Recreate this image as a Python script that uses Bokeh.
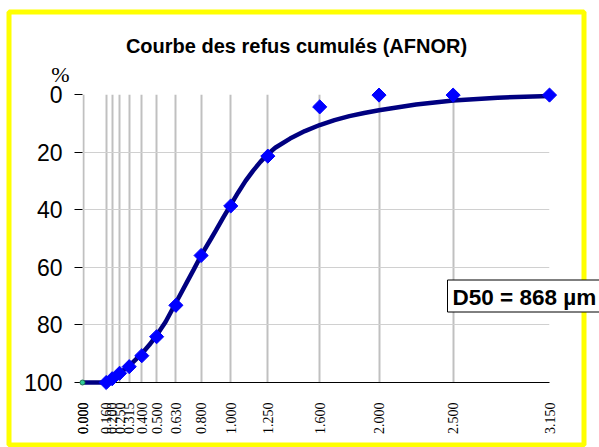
import math
from bokeh.plotting import figure
from bokeh.models import Range1d, FixedTicker
from bokeh.embed import file_html
from bokeh.resources import INLINE
from bokeh.core.properties import value

# ---- data (sieve opening in mm, cumulative refusal in %) ----
sieve_mm = [0.16, 0.2, 0.25, 0.315, 0.4, 0.5, 0.63, 0.8, 1.0, 1.25, 1.6, 2.0, 2.5, 3.15]
refus_pct = [100, 98.7, 96.8, 94.5, 90.7, 84.1, 73.2, 55.9, 38.7, 21.4, 4.3, 0.2, 0.2, 0.2]
origin_mm = [0.0]
origin_pct = [100]

# fitted curve
curve_mm = [0.0, 0.16, 0.2, 0.25, 0.315, 0.4, 0.45, 0.5, 0.56, 0.63, 0.7, 0.75, 0.8, 0.868,
            0.9, 0.95, 1.0, 1.05, 1.1, 1.15, 1.2, 1.25, 1.3, 1.4, 1.5, 1.6, 1.7, 1.8, 1.9, 2.0,
            2.25, 2.5, 2.8, 3.15]
curve_pct = [100, 100, 98.7, 96.8, 94.2, 90.0, 87.0, 83.6, 79.0, 72.3, 65.6, 60.8, 55.9, 50.0,
             47.2, 42.7, 38.3, 34.0, 30.0, 26.5, 23.4, 20.7, 18.5, 15.3, 12.7, 10.6, 8.9, 7.5, 6.4,
             5.5, 3.5, 2.1, 1.1, 0.5]

x_ticks = [0.0, 0.004, 0.16, 0.2, 0.25, 0.315, 0.4, 0.5, 0.63, 0.8, 1.0, 1.25, 1.6, 2.0, 2.5, 3.15]
x_tick_labels = ["0.000", "0.000", "0.160", "0.200", "0.250", "0.315", "0.400", "0.500", "0.630",
                 "0.800", "1.000", "1.250", "1.600", "2.000", "2.500", "3.150"]
y_ticks = [0, 20, 40, 60, 80, 100]

title_text = "Courbe des refus cumulés (AFNOR)"
y_unit = "%"
d50_text = "D50 = 868 µm"

W, H = 599, 447
FL, FR, FT, FB = 82, 549, 94, 382          # plot frame in pixels
XMIN, XMAX, YTOP, YBOT = 0.0, 3.15, 0.0, 100.0


def dx(px):  # pixel -> data (x), for decorations only
    return XMIN + (px - FL) * (XMAX - XMIN) / (FR - FL)


def dy(py):  # pixel -> data (y, reversed axis)
    return YTOP + (py - FT) * (YBOT - YTOP) / (FB - FT)


p = figure(width=W, height=H, x_range=Range1d(XMIN, XMAX), y_range=Range1d(YBOT, YTOP),
           output_backend="svg", toolbar_location=None,
           min_border_left=FL, min_border_right=W - FR, min_border_top=FT,
           min_border_bottom=H - FB)
p.outline_line_color = None
p.background_fill_color = "white"
p.border_fill_color = "white"

# x axis
xa = p.xaxis[0]
xa.ticker = FixedTicker(ticks=x_ticks)
xa.major_label_overrides = {t: l for t, l in zip(x_ticks, x_tick_labels)}
xa.major_label_orientation = math.pi / 2
xa.major_label_text_font = "Liberation Serif"
xa.major_label_text_font_size = "14px"
xa.major_label_text_color = "black"
xa.major_label_standoff = 14
xa.major_tick_line_color = None
xa.minor_tick_line_color = None
xa.axis_line_color = "black"
xa.axis_line_width = 1

# y axis
ya = p.yaxis[0]
ya.ticker = FixedTicker(ticks=y_ticks)
ya.major_label_text_font = "Liberation Sans"
ya.major_label_text_font_size = "23px"
ya.major_label_text_color = "black"
ya.major_label_standoff = 12
ya.major_tick_out = 8
ya.major_tick_in = 0
ya.major_tick_line_color = "black"
ya.minor_tick_line_color = None
ya.axis_line_color = None

# grids
p.xgrid.ticker = FixedTicker(ticks=x_ticks)
p.xgrid.grid_line_color = "#c0c0c0"
p.xgrid.grid_line_width = 2
p.ygrid.ticker = FixedTicker(ticks=y_ticks)
p.ygrid.grid_line_color = "#d0d0d0"
p.ygrid.grid_line_width = 1

# curve and points
p.line(curve_mm, curve_pct, line_color="#000080", line_width=4.5, level="overlay")
p.scatter(sieve_mm, refus_pct, marker="square", size=10, angle=math.pi / 4,
          fill_color="#0000ff", line_color="#0000ff", level="overlay")
p.scatter(origin_mm, origin_pct, marker="circle", size=5, fill_color="#33cc99",
          line_color="#227755", level="overlay")

# yellow chart frame (decoration)
p.quad(left=[dx(8.5)], right=[dx(583.5)], top=[dy(11.5)], bottom=[dy(444.5)],
       fill_color=None, line_color="#ffff00", line_width=5, level="overlay")

# title and unit
p.text(x=[dx(296)], y=[dy(45)], text=[title_text], text_align="center",
       text_baseline="alphabetic", text_font=value("Liberation Sans"),
       text_font_style="bold", text_font_size=value("20px"), text_color="black",
       level="overlay")
p.text(x=[dx(60)], y=[dy(74)], text=[y_unit], text_align="center",
       text_baseline="alphabetic", text_font=value("Liberation Serif"),
       text_font_size=value("22px"), text_color="black", level="overlay")

# D50 box
p.quad(left=[dx(447)], right=[dx(605)], top=[dy(279.5)], bottom=[dy(311.5)],
       fill_color="white", line_color="black", line_width=1, level="overlay")
p.text(x=[dx(452)], y=[dy(297)], text=[d50_text], text_align="left",
       text_baseline="alphabetic", text_font=value("Liberation Sans"),
       text_font_style="bold", text_font_size=value("22.5px"), text_color="black",
       level="overlay")

open("out.html", "w").write(file_html(p, INLINE))
